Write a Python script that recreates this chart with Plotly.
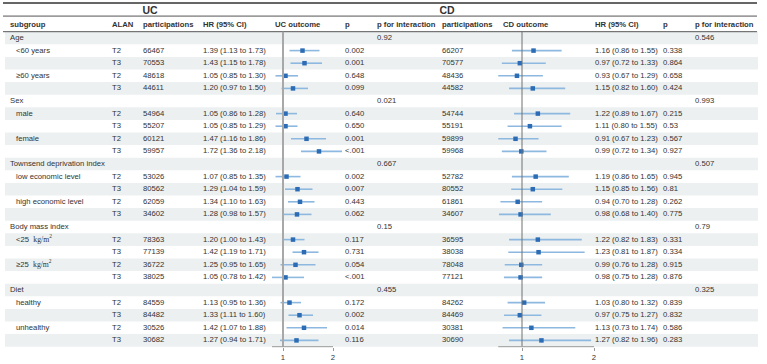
import plotly.graph_objects as go

# ---------------- data ----------------
groups = ["Age", "Sex", "Townsend deprivation index", "Body mass index", "Diet"]
subgroups = [
    ["&lt;60 years", "≥60 years"],
    ["male", "female"],
    ["low economic level", "high economic level"],
    ["&lt;25&nbsp; <span style='font-family:Liberation Serif'>kg/m<sup>2</sup></span>",
     "≥25&nbsp; <span style='font-family:Liberation Serif'>kg/m<sup>2</sup></span>"],
    ["healthy", "unhealthy"],
]
alan = ["T2", "T3"]

uc_n = [66467, 70553, 48618, 44611, 54964, 55207, 60121, 59957, 53026, 80562,
        62059, 34602, 78363, 77139, 36722, 38025, 84559, 84482, 30526, 30682]
uc_hr = [1.39, 1.43, 1.05, 1.20, 1.05, 1.05, 1.47, 1.72, 1.07, 1.29,
         1.34, 1.28, 1.20, 1.42, 1.25, 1.05, 1.13, 1.33, 1.42, 1.27]
uc_lo = [1.13, 1.15, 0.85, 0.97, 0.86, 0.85, 1.16, 1.36, 0.85, 1.04,
         1.10, 0.98, 1.00, 1.19, 0.95, 0.78, 0.95, 1.11, 1.07, 0.94]
uc_hi = [1.73, 1.78, 1.30, 1.50, 1.28, 1.29, 1.86, 2.18, 1.35, 1.59,
         1.63, 1.57, 1.43, 1.71, 1.65, 1.42, 1.36, 1.60, 1.88, 1.71]
uc_p = ["0.002", "0.001", "0.648", "0.099", "0.640", "0.650", "0.001", "&lt;.001", "0.002", "0.007",
        "0.443", "0.062", "0.117", "0.731", "0.054", "&lt;.001", "0.172", "0.002", "0.014", "0.116"]
uc_pint = ["0.92", "0.021", "0.667", "0.15", "0.455"]

cd_n = [66207, 70577, 48436, 44582, 54744, 55191, 59899, 59968, 52782, 80552,
        61861, 34607, 36595, 38038, 78048, 77121, 84262, 84469, 30381, 30690]
cd_hr = [1.16, 0.97, 0.93, 1.15, 1.22, 1.11, 0.91, 0.99, 1.19, 1.15,
         0.94, 0.98, 1.22, 1.23, 0.99, 0.98, 1.03, 0.97, 1.13, 1.27]
cd_lo = [0.86, 0.72, 0.67, 0.82, 0.89, 0.80, 0.67, 0.72, 0.86, 0.85,
         0.70, 0.68, 0.82, 0.81, 0.76, 0.75, 0.80, 0.75, 0.73, 0.82]
cd_hi = [1.55, 1.33, 1.29, 1.60, 1.67, 1.55, 1.23, 1.34, 1.65, 1.56,
         1.28, 1.40, 1.83, 1.87, 1.28, 1.28, 1.32, 1.27, 1.74, 1.96]
cd_p = ["0.338", "0.864", "0.658", "0.424", "0.215", "0.53", "0.567", "0.927", "0.945", "0.81",
        "0.262", "0.775", "0.331", "0.334", "0.915", "0.876", "0.839", "0.832", "0.586", "0.283"]
cd_pint = ["0.546", "0.993", "0.507", "0.79", "0.325"]

tick_vals = [1, 2]
tick_text = ["1", "2"]

# ---------------- layout constants ----------------
W, H = 767, 364
ROW0_PX, ROW_H = 38.0, 12.6
y_top = -ROW0_PX / ROW_H
y_bot = (H - ROW0_PX) / ROW_H
AXIS_ROW = 24.5
axis_paper = 1 - (ROW0_PX + ROW_H * AXIS_ROW) / H

FONT = "Liberation Sans, Arial, sans-serif"
FS = 7.7
TXT = "#333333"
CI_COL = "#8db8df"
PT_COL = "#2c6cb4"

# row indices
n_rows = len(groups) * 5
group_rows = [5 * g for g in range(len(groups))]
data_rows = [5 * g + 1 + k for g in range(len(groups)) for k in range(4)]
sub_rows = [5 * g + 1 + 2 * s for g in range(len(groups)) for s in range(2)]
sub_labels = [lab for g in subgroups for lab in g]
alan_col = [alan[k % 2] for k in range(len(data_rows))]

def ci_txt(h, l, u):
    return [f"{a:.2f} ({b:.2f} to {c:.2f})" for a, b, c in zip(h, l, u)]

fig = go.Figure()

def text_col(x, rows, texts, pos="middle right", size=FS):
    fig.add_trace(go.Scatter(
        x=[x] * len(rows), y=rows, text=texts, mode="text",
        textposition=pos, textfont=dict(family=FONT, size=size, color=TXT),
        xaxis="x3", yaxis="y", hoverinfo="skip", showlegend=False, cliponaxis=False))

# headers
text_col(150, [-2.1], ["<b>UC</b>"], pos="middle center", size=10.5)
text_col(447, [-2.1], ["<b>CD</b>"], pos="middle center", size=10.5)
hdr_x = [10, 112, 143, 203, 275, 345, 377, 442, 503, 595, 663, 695]
hdr_t = ["subgroup", "ALAN", "participations", "HR (95% CI)", "UC outcome", "p",
         "p for interaction", "participations", "CD outcome", "HR (95% CI)", "p", "p for interaction"]
for hx, ht in zip(hdr_x, hdr_t):
    text_col(hx, [-1], [f"<b>{ht}</b>"])

# body text
text_col(10, group_rows, groups)
text_col(16, sub_rows, sub_labels)
text_col(112, data_rows, alan_col)
text_col(143, data_rows, [str(v) for v in uc_n])
text_col(203, data_rows, ci_txt(uc_hr, uc_lo, uc_hi))
text_col(345, data_rows, uc_p)
text_col(377, group_rows, uc_pint)
text_col(442, data_rows, [str(v) for v in cd_n])
text_col(595, data_rows, ci_txt(cd_hr, cd_lo, cd_hi))
text_col(663, data_rows, cd_p)
text_col(695, group_rows, cd_pint)

# forest plots
for xa, hr, lo, hi in [("x", uc_hr, uc_lo, uc_hi), ("x2", cd_hr, cd_lo, cd_hi)]:
    fig.add_trace(go.Scatter(
        x=hr, y=data_rows, mode="markers", xaxis=xa, yaxis="y",
        marker=dict(symbol="square", size=4.5, color=PT_COL),
        error_x=dict(type="data", symmetric=False,
                     array=[u - h for h, u in zip(hr, hi)],
                     arrayminus=[h - l for h, l in zip(hr, lo)],
                     color=CI_COL, thickness=1.6, width=0),
        hoverinfo="skip", showlegend=False, cliponaxis=False))

shapes = []
# alternating shading (paper x-ref so it sits below every subplot)
for r in range(0, n_rows, 2):
    shapes.append(dict(type="rect", xref="paper", yref="y", x0=5 / W, x1=758 / W,
                       y0=r - 0.5, y1=r + 0.5,
                       fillcolor="#edf0f0", line=dict(width=0), layer="below"))
# rules
shapes.append(dict(type="line", xref="paper", yref="y", x0=3 / W, x1=757 / W, y0=-2.78, y1=-2.78,
                   line=dict(color="#666666", width=2)))
shapes.append(dict(type="line", xref="paper", yref="y", x0=3 / W, x1=757 / W, y0=-1.74, y1=-1.74,
                   line=dict(color="#555555", width=1)))
shapes.append(dict(type="line", xref="paper", yref="y", x0=3 / W, x1=757 / W, y0=-0.5, y1=-0.5,
                   line=dict(color="#555555", width=1)))
# reference lines and axis lines
shapes.append(dict(type="line", xref="x", yref="y", x0=1, x1=1, y0=-0.5, y1=AXIS_ROW,
                   line=dict(color="#a8a8a8", width=2)))
shapes.append(dict(type="line", xref="x2", yref="y", x0=1, x1=1, y0=-0.5, y1=AXIS_ROW,
                   line=dict(color="#707070", width=1)))
shapes.append(dict(type="line", xref="x", yref="y", x0=min(uc_lo), x1=max(tick_vals),
                   y0=AXIS_ROW, y1=AXIS_ROW, line=dict(color="#999999", width=1)))
shapes.append(dict(type="line", xref="x2", yref="y", x0=min(cd_lo), x1=max(tick_vals),
                   y0=AXIS_ROW, y1=AXIS_ROW, line=dict(color="#999999", width=1)))

def px_dom(a, b):
    return [a / W, b / W]

tick_font = dict(family=FONT, size=FS, color=TXT)
fig.update_layout(
    width=W, height=H, autosize=False,
    margin=dict(l=0, r=0, t=0, b=0, pad=0),
    paper_bgcolor="white", plot_bgcolor="rgba(0,0,0,0)",
    shapes=shapes,
    xaxis=dict(domain=px_dom(255, 355), range=[1 - 28 / 50, 1 + 72 / 50], anchor="free",
               position=axis_paper, showgrid=False, zeroline=False, showline=False,
               ticks="outside", ticklen=3, tickcolor="#999999", tickwidth=1,
               tickvals=tick_vals, ticktext=tick_text, tickfont=tick_font),
    xaxis2=dict(domain=px_dom(490, 600), range=[1 - 32 / 72, 1 + 78 / 72], anchor="free",
                position=axis_paper, showgrid=False, zeroline=False, showline=False,
                ticks="outside", ticklen=3, tickcolor="#999999", tickwidth=1,
                tickvals=tick_vals, ticktext=tick_text, tickfont=tick_font),
    xaxis3=dict(domain=[0, 1], range=[0, W], anchor="y", visible=False),
    yaxis=dict(domain=[0, 1], range=[y_bot, y_top], visible=False, anchor="x3"),
)

fig.write_html("out.html")
